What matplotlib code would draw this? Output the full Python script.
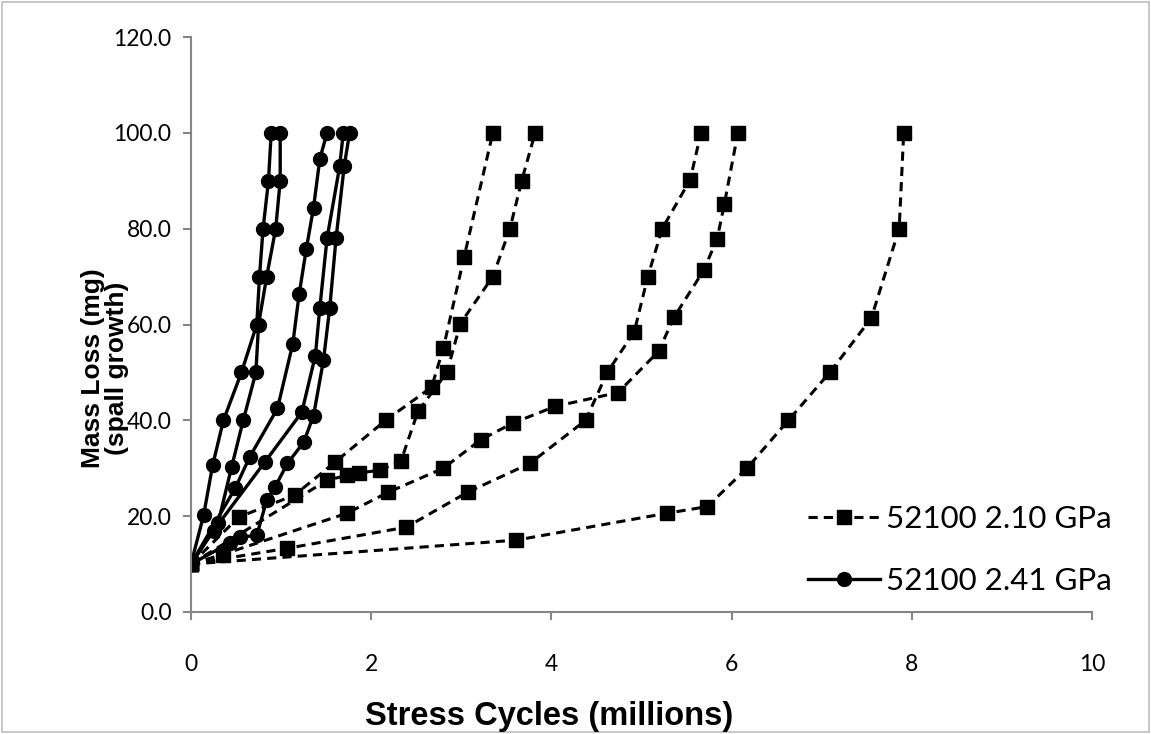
import matplotlib.pyplot as plt
from matplotlib.patches import Rectangle

# 52100 steel at 2.10 GPa (dashed, square markers)
d1_x = [0, 0.53, 1.15, 1.60, 2.16, 2.67, 2.80, 3.03, 3.35]
d1_y = [10, 19.8, 24.4, 31.3, 40.0, 46.9, 55.0, 74.0, 100.0]
d2_x = [0, 1.51, 1.73, 1.86, 2.10, 2.33, 2.52, 2.84, 2.99, 3.35, 3.54, 3.67, 3.82]
d2_y = [10, 27.5, 28.5, 29.0, 29.6, 31.5, 41.9, 50.0, 60.2, 70.0, 80.0, 90.0, 100.0]
d3_x = [0, 1.07, 2.39, 3.07, 3.76, 4.38, 4.62, 4.92, 5.07, 5.23, 5.54, 5.66]
d3_y = [10, 13.3, 17.7, 25.0, 31.0, 40.0, 50.0, 58.5, 70.0, 80.0, 90.2, 100.0]
d4_x = [0, 0.35, 1.73, 2.19, 2.80, 3.22, 3.57, 4.04, 4.74, 5.19, 5.36, 5.69, 5.84, 5.92, 6.07]
d4_y = [10, 12.0, 20.6, 25.0, 30.0, 36.0, 39.4, 42.9, 45.8, 54.4, 61.5, 71.3, 77.9, 85.2, 100.0]
d5_x = [0, 3.61, 5.28, 5.73, 6.17, 6.63, 7.09, 7.55, 7.86, 7.91]
d5_y = [10, 15.0, 20.6, 22.0, 30.0, 40.0, 50.0, 61.3, 80.0, 100.0]

# 52100 steel at 2.41 GPa (solid, circle markers)
c1_x = [0, 0.14, 0.24, 0.36, 0.56, 0.73, 0.76, 0.80, 0.86, 0.89]
c1_y = [10, 20.2, 30.6, 40.0, 50.0, 60.0, 70.0, 80.0, 90.0, 100.0]
c2_x = [0, 0.30, 0.45, 0.58, 0.72, 0.75, 0.84, 0.94, 0.99, 0.99]
c2_y = [10, 18.5, 30.2, 40.0, 50.0, 60.0, 70.0, 80.0, 90.0, 100.0]
c3_x = [0, 0.49, 0.65, 0.96, 1.13, 1.20, 1.28, 1.36, 1.43, 1.51]
c3_y = [10, 25.8, 32.3, 42.5, 56.0, 66.3, 75.8, 84.4, 94.6, 100.0]
c4_x = [0, 0.25, 0.82, 1.23, 1.38, 1.43, 1.51, 1.65, 1.69]
c4_y = [10, 17.0, 31.3, 41.7, 53.5, 63.5, 78.0, 93.0, 100.0]
c5_x = [0, 0.43, 0.54, 0.73, 0.84, 0.93, 1.07, 1.25, 1.36, 1.47, 1.54, 1.61, 1.70, 1.76]
c5_y = [10, 14.4, 15.6, 16.0, 23.3, 26.0, 31.0, 35.4, 41.0, 52.5, 63.5, 78.0, 93.0, 100.0]

dashed = [(d1_x, d1_y), (d2_x, d2_y), (d3_x, d3_y), (d4_x, d4_y), (d5_x, d5_y)]
solid = [(c1_x, c1_y), (c2_x, c2_y), (c3_x, c3_y), (c4_x, c4_y), (c5_x, c5_y)]

tick_font = 'Lato'
label_font = 'Liberation Sans'
grey = '#868686'
W, H = 1151, 734

fig = plt.figure(figsize=(W / 100, H / 100), dpi=100)
# axes box in pixels: x 191..1092, y 37..612
ax = fig.add_axes([191 / W, 1 - 612 / H, (1092 - 191) / W, (612 - 37) / H])

for i, (x, y) in enumerate(dashed):
    ax.plot(x, y, color='black', linestyle=(0, (3, 2)), linewidth=2.2,
            marker='s', markersize=9.5,
            label='52100 2.10 GPa' if i == 0 else None)

for i, (x, y) in enumerate(solid):
    ax.plot(x, y, color='black', linestyle='-', linewidth=2.4,
            marker='o', markersize=10,
            label='52100 2.41 GPa' if i == 0 else None)

ax.set_xlim(0, 10)
ax.set_ylim(0, 120)
ax.set_xticks(range(0, 11, 2))
ax.set_yticks(range(0, 121, 20))
ax.set_yticklabels([f'{v:.1f}' for v in range(0, 121, 20)])

for side in ('top', 'right'):
    ax.spines[side].set_visible(False)
for side in ('left', 'bottom'):
    ax.spines[side].set_color(grey)
    ax.spines[side].set_linewidth(1.5)
ax.tick_params(direction='out', length=6, width=1.5, color=grey, labelsize=16.5)
ax.tick_params(axis='x', pad=24)
ax.tick_params(axis='y', pad=8)
for lbl in ax.get_xticklabels() + ax.get_yticklabels():
    lbl.set_fontfamily(tick_font)

fig.text(549 / W, 1 - 716 / H, 'Stress Cycles (millions)', ha='center', va='center',
         fontsize=23.5, fontweight='bold', fontfamily=label_font)
fig.text(105 / W, 1 - 368 / H, 'Mass Loss (mg)\n(spall growth)', ha='center', va='center',
         rotation=90, fontsize=19, fontweight='bold', fontfamily=label_font,
         linespacing=1.0)

leg = ax.legend(loc='center left', bbox_to_anchor=(808 / W, 1 - 550 / H),
                bbox_transform=fig.transFigure, frameon=False,
                borderpad=0, borderaxespad=0, handlelength=2.3,
                labelspacing=1.1, handletextpad=0.18,
                prop={'family': tick_font, 'size': 22.5})

# light outline round the whole chart
fig.patches.append(Rectangle((0.002, 0.003), 0.996, 0.994, transform=fig.transFigure,
                             fill=False, edgecolor='#BFBFBF', linewidth=1.2))

fig.savefig('out.png', dpi=100)
